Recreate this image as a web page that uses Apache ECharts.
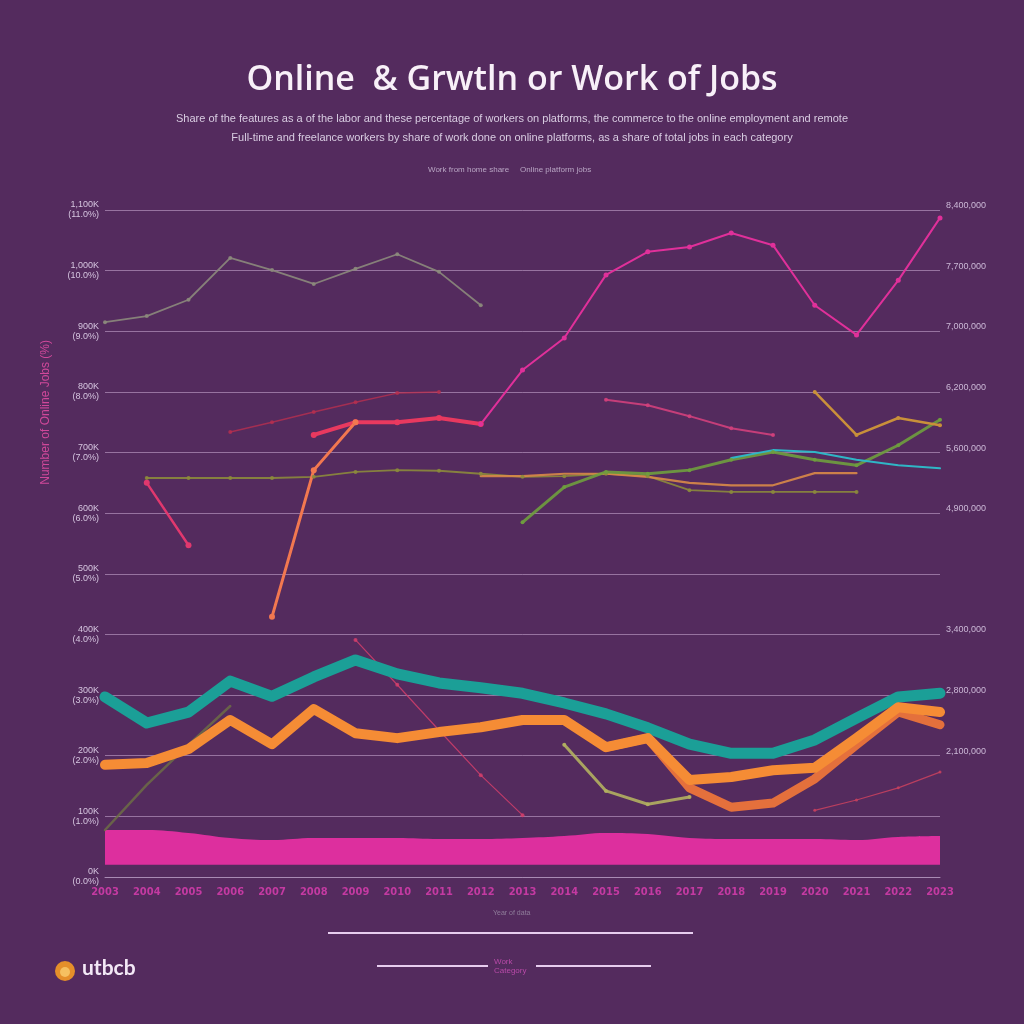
<!DOCTYPE html>
<html>
<head>
<meta charset="utf-8">
<style>
html,body{margin:0;padding:0;background:#542b5e;}
#chart{width:1024px;height:1024px;}
</style>
<script src="https://cdn.jsdelivr.net/npm/echarts@6/dist/echarts.min.js"></script>
</head>
<body>
<div id="chart"></div>
<script>
// ---------- DATA ----------
const categories = ['2003','2004','2005','2006','2007','2008','2009','2010','2011','2012','2013','2014','2015','2016','2017','2018','2019','2020','2021','2022','2023'];
const yLeftLabels = ['0K\n(0.0%)','100K\n(1.0%)','200K\n(2.0%)','300K\n(3.0%)','400K\n(4.0%)','500K\n(5.0%)','600K\n(6.0%)','700K\n(7.0%)','800K\n(8.0%)','900K\n(9.0%)','1,000K\n(10.0%)','1,100K\n(11.0%)'];
const yRightLabels = ['','','2,100,000','2,800,000','3,400,000','','4,900,000','5,600,000','6,200,000','7,000,000','7,700,000','8,400,000'];

const teal        = [29.7,25.4,27.2,32.3,29.8,33.0,35.8,33.5,32.0,31.2,30.3,28.7,26.9,24.6,21.9,20.4,20.4,22.6,26.2,29.7,30.3];
const orangeMain  = [18.5,18.8,21.1,25.9,21.9,27.7,23.7,22.9,23.9,24.7,25.9,25.9,21.4,22.9,16.0,16.5,17.6,18.0,22.9,28.0,27.2];
const orangeLow   = [null,null,null,null,null,null,null,null,null,null,null,null,21.4,22.9,14.7,11.5,12.2,16.2,21.8,27.2,25.1];
const grayLine    = [91.5,92.5,95.2,102.1,100.1,97.8,100.3,102.7,99.8,94.3,null,null,null,null,null,null,null,null,null,null,null];
const redThick    = [null,null,null,null,null,72.9,75.0,75.0,75.7,74.7,null,null,null,null,null,null,null,null,null,null,null];
const magentaLine = [null,null,null,null,null,null,null,null,null,74.7,83.6,88.9,99.3,103.1,103.9,106.2,104.2,94.3,89.4,98.4,108.7];
const oliveFlat   = [null,65.8,65.8,65.8,65.8,66.0,66.8,67.1,67.0,66.5,66.0,66.1,66.5,66.1,63.8,63.5,63.5,63.5,63.5,null,null];
const orangeThin  = [null,null,null,null,null,null,null,null,null,66.1,66.1,66.5,66.5,66.0,65.0,64.6,64.6,66.6,66.6,null,null];
const greenRise   = [null,null,null,null,null,null,null,null,null,null,58.5,64.3,66.8,66.5,67.1,68.8,70.1,68.8,67.9,71.2,75.4];
const cyanThin    = [null,null,null,null,null,null,null,null,null,null,null,null,null,null,null,69.1,70.4,70.1,68.8,67.9,67.4];
const tanRight    = [null,null,null,null,null,null,null,null,null,null,null,null,null,null,null,null,null,80.0,72.9,75.7,74.5];
const pinkMid     = [null,null,null,null,null,null,null,null,null,null,null,null,78.7,77.8,76.0,74.0,72.9,null,null,null,null];
const darkRed     = [null,null,null,73.4,75.0,76.7,78.3,79.8,80.0,null,null,null,null,null,null,null,null,null,null,null,null];
const orangeSpike = [null,null,null,null,42.9,67.1,75.0,null,null,null,null,null,null,null,null,null,null,null,null,null,null];
const pinkDrop    = [null,65.0,54.7,null,null,null,null,null,null,null,null,null,null,null,null,null,null,null,null,null,null];
const pinkFall    = [null,null,null,null,null,null,39.1,31.7,24.2,16.8,10.2,null,null,null,null,null,null,null,null,null,null];
const salmonRight = [null,null,null,null,null,null,null,null,null,null,null,null,null,null,null,null,null,11.0,12.7,14.7,17.3];
const oliveLow    = [null,null,null,null,null,null,null,null,null,null,null,21.8,14.2,12.0,13.2,null,null,null,null,null,null];
const greenLow    = [7.75,15.2,21.8,28.2,null,null,null,null,null,null,null,null,null,null,null,null,null,null,null,null,null];
const bandBase    = [2,2,2,2,2,2,2,2,2,2,2,2,2,2,2,2,2,2,2,2,2];
const bandTop     = [7.75,7.75,7.26,6.43,6.10,6.43,6.43,6.43,6.27,6.27,6.43,6.76,7.26,7.09,6.43,6.27,6.27,6.27,6.10,6.60,6.76];

// ---------- CHART ----------
const chart = echarts.init(document.getElementById('chart'));

function line(name, data, color, width, symSize, opacity, z) {
  return {
    name, type: 'line', data,
    yAxisIndex: 0,
    lineStyle: { color, width, opacity: opacity == null ? 1 : opacity, cap: 'round', join: 'round' },
    itemStyle: { color, opacity: opacity == null ? 1 : opacity },
    symbol: symSize ? 'circle' : 'none',
    symbolSize: symSize || 0,
    showSymbol: !!symSize,
    connectNulls: false,
    z: z || 2,
    silent: true
  };
}

const bandThick = bandTop.map((t, i) => +(t - bandBase[i]).toFixed(2));

const option = {
  backgroundColor: '#542b5e',
  animation: false,
  title: [{
    text: 'Online  & Grwtln or Work of Jobs',
    left: 'center', top: 58,
    textStyle: { color: '#f8f0f8', fontSize: 34, fontWeight: 600, fontFamily: '"Open Sans", sans-serif' }
  }, {
    text: 'Share of the features as a of the labor and these percentage of workers on platforms, the commerce to the online employment and remote\nFull-time and freelance workers by share of work done on online platforms, as a share of total jobs in each category',
    left: 'center', top: 104,
    textStyle: { color: '#d9cde2', fontSize: 11, fontWeight: 'normal', lineHeight: 19, fontFamily: '"Liberation Sans", sans-serif' }
  }],
  grid: { left: 105, right: 84, top: 210, bottom: 147 },
  xAxis: {
    type: 'category', data: categories, boundaryGap: false,
    axisLine: { show: true, lineStyle: { color: '#a98bb4', width: 1 } },
    axisTick: { show: false },
    axisLabel: { color: '#c43aa2', fontSize: 11, fontWeight: 'bold', margin: 10, fontFamily: '"DejaVu Sans Condensed", sans-serif' },
    splitLine: { show: false }
  },
  yAxis: [{
    type: 'value', min: 0, max: 110, interval: 10,
    axisLine: { show: false }, axisTick: { show: false },
    splitLine: { lineStyle: { color: 'rgba(205,175,215,0.55)', width: 1 } },
    axisLabel: {
      color: '#d6c6e0', fontSize: 9, lineHeight: 10, margin: 6,
      formatter: v => yLeftLabels[Math.round(v / 10)] || ''
    }
  }, {
    type: 'value', min: 0, max: 110, interval: 10, position: 'right',
    axisLine: { show: false }, axisTick: { show: false }, splitLine: { show: false },
    axisLabel: {
      color: '#cbb8d6', fontSize: 9, margin: 6, verticalAlign: 'bottom',
      formatter: v => yRightLabels[Math.round(v / 10)] || ''
    }
  }],
  series: [
    { name: 'base', type: 'line', stack: 'band', data: bandBase, symbol: 'none', lineStyle: { width: 0 }, areaStyle: { color: 'rgba(0,0,0,0)' }, silent: true, smooth: 0.4 },
    { name: 'Platform jobs', type: 'line', stack: 'band', data: bandThick, symbol: 'none', smooth: 0.4, lineStyle: { width: 0 }, areaStyle: { color: '#dd2f9e', opacity: 1 }, silent: true, z: 1 },

    line('gray', grayLine, '#8c8a7c', 1.8, 4, 0.9),
    line('darkRed', darkRed, '#b8304f', 1.5, 4, 0.8),
    line('oliveFlat', oliveFlat, '#8c8a3c', 1.8, 4, 0.9),
    line('orangeThin', orangeThin, '#d98a48', 2.2, 0, 0.9),
    line('greenRise', greenRise, '#6f9e3e', 3, 4, 0.9),
    line('cyan', cyanThin, '#2fb6c6', 2, 0, 1),
    line('tan', tanRight, '#c9903a', 2.5, 4, 1),
    line('pinkMid', pinkMid, '#d2407c', 2, 4, 0.9),
    line('redThick', redThick, '#e8395f', 4, 6, 1),
    line('magenta', magentaLine, '#e0309a', 2, 5, 1),
    line('orangeSpike', orangeSpike, '#f27850', 3, 6, 1),
    line('pinkDrop', pinkDrop, '#e0386e', 2.5, 6, 1),
    line('pinkFall', pinkFall, '#d8406c', 1.2, 4, 0.8),
    line('salmon', salmonRight, '#c4405e', 1.2, 3, 0.9),
    line('oliveLow', oliveLow, '#b3b060', 3, 4, 0.9),
    line('greenLow', greenLow, '#6e7044', 2.5, 0, 0.8),
    line('orangeLow', orangeLow, '#e4703c', 9, 0, 1, 3),
    line('teal', teal, '#1b9f97', 11, 0, 1, 4),
    line('orange', orangeMain, '#f58c35', 10, 0, 1, 5)
  ],
  graphic: [
    { type: 'text', left: 428, top: 166, style: { text: 'Work from home share', fill: '#b9a6c4', fontSize: 8 } },
    { type: 'text', left: 520, top: 166, style: { text: 'Online platform jobs', fill: '#b9a6c4', fontSize: 8 } },
    { type: 'text', left: 40, top: 340, rotation: Math.PI / 2, originX: 0, originY: 0,
      style: { text: 'Number of Online Jobs (%)', fill: '#d0489a', fontSize: 12 } },
    { type: 'text', left: 493, top: 910, style: { text: 'Year of data', fill: '#8f7d9a', fontSize: 7 } },
    { type: 'line', shape: { x1: 328, y1: 933, x2: 693, y2: 933 }, style: { stroke: '#e7cdef', lineWidth: 2 } },
    { type: 'line', shape: { x1: 377, y1: 966, x2: 488, y2: 966 }, style: { stroke: '#e7cdef', lineWidth: 2 } },
    { type: 'line', shape: { x1: 536, y1: 966, x2: 651, y2: 966 }, style: { stroke: '#e7cdef', lineWidth: 2 } },
    { type: 'text', left: 494, top: 957, style: { text: 'Work\nCategory', fill: '#b84aa8', fontSize: 8, lineHeight: 9 } },
    { type: 'circle', shape: { cx: 65, cy: 971, r: 10 }, style: { fill: '#e58f2a' } },
    { type: 'circle', shape: { cx: 65, cy: 972, r: 5 }, style: { fill: '#f6c060' } },
    { type: 'text', left: 82, top: 958, style: { text: 'utbcb', fill: '#f3e8f6', fontSize: 21, fontWeight: 'bold', fontFamily: 'Lato, sans-serif' } }
  ]
};
chart.setOption(option);
</script>
</body>
</html>
